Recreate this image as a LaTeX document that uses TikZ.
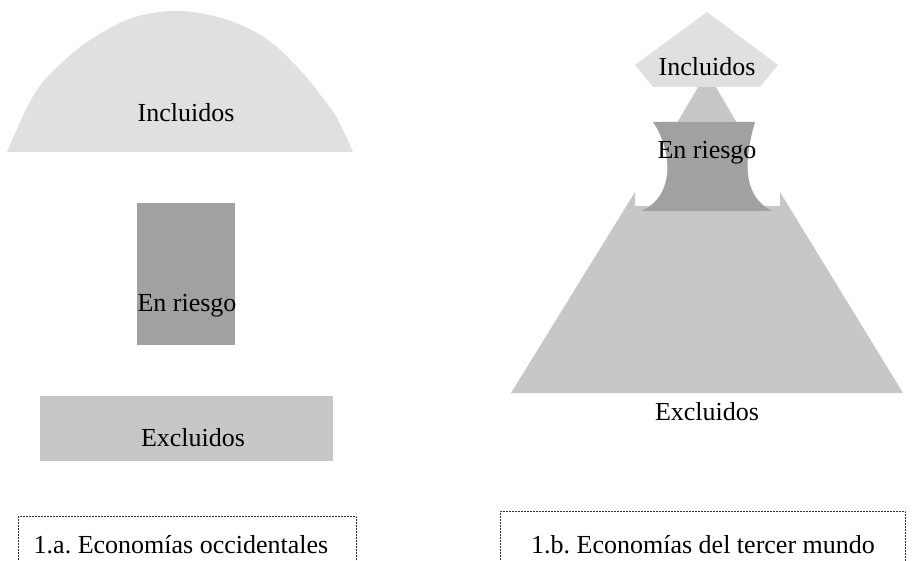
\documentclass[tikz,border=0pt]{standalone}
\usepackage{fontspec}
\setmainfont{Liberation Serif}
\usetikzlibrary{positioning}
\frenchspacing

\definecolor{incl}{gray}{0.88}
\definecolor{riesgo}{gray}{0.63}
\definecolor{excl}{gray}{0.78}

\begin{document}
\begin{tikzpicture}
    [x=1pt,y=-1pt,
     lbl/.style={inner sep=0pt, font=\fontsize{26}{30}\selectfont},
     caption/.style={draw=black!80, densely dotted, line width=0.5pt}]

    \useasboundingbox (0,0) rectangle (913,561);

    % 1.a
    \fill[incl] plot[smooth, tension=0.6] coordinates {(7,152) (35,93) (67,58)
                (98,35) (135,17) (180,11) (228,20) (268,40) (300,70) (322,97)
                (337,118) (353,152)} -- cycle;
    \fill[riesgo] (137,203) rectangle (235,345);
    \fill[excl] (40,396) rectangle (333,461);

    \node[lbl] (inclA) at (186,113) {Incluidos};
    \node[lbl] (riesgoA) at (187,306) {En riesgo};
    \node[lbl] (exclA) at (193,438) {Excluidos};

    % 1.b
    \fill[excl] (511,393) -- (635,192) -- (635,206) -- (780,206) -- (780,192)
                -- (903,393) -- cycle;
    \fill[excl] (707,72) -- (740,128) -- (674,128) -- cycle;
    \fill[riesgo] (653,122) -- (755,122)
                  .. controls (744,160) and (742,196) .. (772,211)
                  -- (641,211)
                  .. controls (676,196) and (672,150) .. (653,122) -- cycle;
    \fill[incl] (707,12) -- (778,65) -- (760,87) -- (653,87) -- (635,65) -- cycle;

    \node[lbl] (inclB) at (707,67) {Incluidos};
    \node[lbl] (riesgoB) at (707,153) {En riesgo};
    \node[lbl] (exclB) at (707,412) {Excluidos};

    % captions
    \node[lbl] (capA) at (181,545) {1.a. Economías occidentales};
    \node[lbl] (capB) at (703,545) {1.b. Economías del tercer mundo};
    \draw[caption] (18,561) |- (356,516) -- (356,561);
    \draw[caption] (500,561) |- (905,511) -- (905,561);
\end{tikzpicture}
\end{document}
